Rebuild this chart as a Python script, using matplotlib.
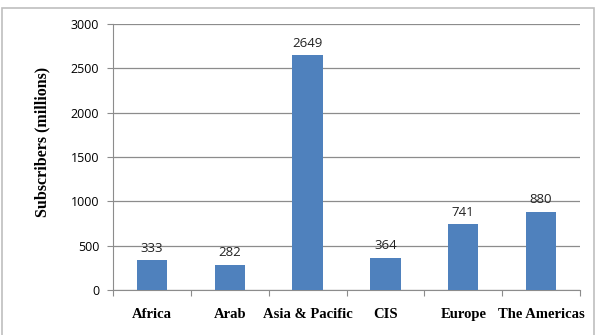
import matplotlib.pyplot as plt
from matplotlib.patches import Rectangle
import numpy as np

regions = ['Africa', 'Arab', 'Asia & Pacific', 'CIS', 'Europe', 'The Americas']
subscribers = [333, 282, 2649, 364, 741, 880]
y_ticks = [0, 500, 1000, 1500, 2000, 2500, 3000]

W, H = 597, 335
fig = plt.figure(figsize=(W / 100, H / 100), dpi=100)
ax = fig.add_axes([113 / W, 1 - 290 / H, (580 - 113) / W, (290 - 24) / H])

x = np.arange(len(regions))
bars = ax.bar(x, subscribers, width=0.39, color='#4F81BD', zorder=3)

# value labels above bars
for xi, v in zip(x, subscribers):
    ax.annotate(str(v), (xi, v), xytext=(0, 4), textcoords='offset points',
                ha='center', va='bottom', fontsize=9.5, family='Open Sans', color='#222222')

ax.set_xlim(-0.5, len(regions) - 0.5)
ax.set_ylim(0, 3000)
ax.set_yticks(y_ticks)
ax.set_yticklabels([str(t) for t in y_ticks], family='Open Sans', fontsize=9)
ax.grid(axis='y', color='#8c8c8c', linewidth=0.9, zorder=0)

# category boundary ticks on x-axis
ax.set_xticks(np.arange(len(regions) + 1) - 0.5)
ax.set_xticklabels([])
ax.set_xticks(x, minor=True)
ax.set_xticklabels(regions, minor=True, family='Liberation Serif',
                   fontweight='bold', fontsize=10.5)
ax.tick_params(axis='x', which='major', length=4, color='#8c8c8c')
ax.tick_params(axis='x', which='minor', length=0, pad=13)
ax.tick_params(axis='y', length=4, color='#8c8c8c', pad=6)

for side in ['top', 'right']:
    ax.spines[side].set_visible(False)
for side in ['left', 'bottom']:
    ax.spines[side].set_color('#8c8c8c')

ax.set_ylabel('Subscribers (millions)', family='Liberation Serif',
              fontweight='bold', fontsize=11.5)
ax.yaxis.set_label_coords(-0.133, 0.556)

# outer chart border
fig.patches.append(Rectangle((2 / W, -0.02), (594 - 2) / W, 1 - 8 / H + 0.02,
                             transform=fig.transFigure, fill=False,
                             edgecolor='#bfbfbf', linewidth=1.2))

fig.savefig('out.png', dpi=100)
